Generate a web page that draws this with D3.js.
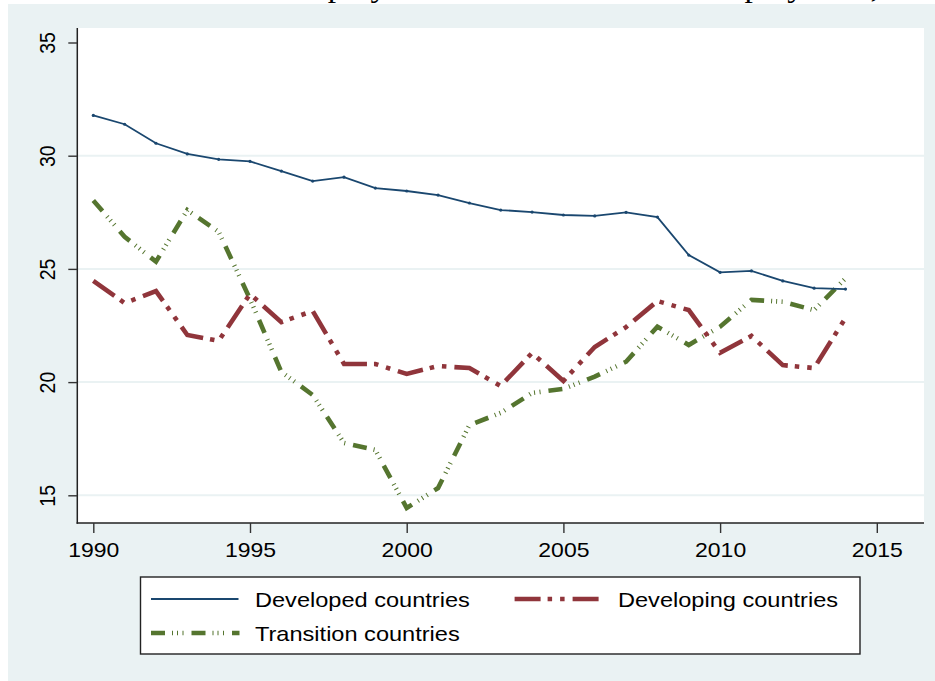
<!DOCTYPE html>
<html>
<head>
<meta charset="utf-8">
<script src="https://cdn.jsdelivr.net/npm/d3@7"></script>
<style>
  html, body { margin: 0; padding: 0; background: #ffffff; }
  svg { display: block; }
  text { font-family: "Liberation Sans", Arial, Helvetica, sans-serif; fill: #000; }
</style>
</head>
<body>
<svg id="chart" width="935" height="681"></svg>
<script>
// ---------- data ----------
const years = [1990,1991,1992,1993,1994,1995,1996,1997,1998,1999,2000,2001,2002,2003,2004,2005,2006,2007,2008,2009,2010,2011,2012,2013,2014];
const developed = [31.78,31.39,30.55,30.08,29.84,29.75,29.32,28.88,29.05,28.57,28.44,28.26,27.91,27.60,27.51,27.38,27.34,27.50,27.29,25.61,24.85,24.91,24.47,24.15,24.11];
const developing = [24.47,23.49,24.02,22.08,21.82,23.89,22.65,23.14,20.80,20.80,20.36,20.71,20.62,19.83,21.29,20.05,21.55,22.43,23.58,23.18,21.29,22.04,20.75,20.62,22.83];
const transition = [28.02,26.42,25.32,27.60,26.64,23.67,20.45,19.43,17.31,17.00,14.44,15.32,18.10,18.64,19.52,19.70,20.24,20.90,22.45,21.64,22.45,23.63,23.55,23.18,24.58];
const seriesNames = ["Developed countries", "Developing countries", "Transition countries"];
const xTicks = [1990,1995,2000,2005,2010,2015];
const yTicks = [15,20,25,30,35];
const gridValues = [15,20,25,30];
const titleText = "Vulnerable employment as a share of total employment, %";

// ---------- layout ----------
const svg = d3.select("#chart");
const W = 935, H = 681;
const plot = {left: 77.3, right: 924, top: 28, bottom: 523};
const SX = 1.15; // horizontal text stretch seen in the reference

const x = d3.scaleLinear().domain([1990, 2015]).range([93.3, 876.8]);
const y = d3.scaleLinear().domain([15, 35]).range([495.3, 42.5]);

// title (mostly cut off at the top)
svg.append("text")
  .attr("transform", `translate(915,-3) scale(${SX},1)`)
  .attr("text-anchor", "end")
  .style("font-family", "'Liberation Serif', 'Times New Roman', serif")
  .style("font-size", "29px")
  .text(titleText);

// background
svg.append("rect").attr("x", 8).attr("y", 4).attr("width", W - 8).attr("height", H - 4).attr("fill", "#eaf2f3");
svg.append("rect").attr("x", plot.left).attr("y", plot.top)
  .attr("width", plot.right - plot.left).attr("height", plot.bottom - plot.top).attr("fill", "#ffffff");

// gridlines
svg.append("g").selectAll("line").data(gridValues).join("line")
  .attr("x1", plot.left).attr("x2", plot.right)
  .attr("y1", d => y(d)).attr("y2", d => y(d))
  .attr("stroke", "#eaf2f3").attr("stroke-width", 2);

// series
const line = d3.line().x((d, i) => x(years[i])).y(d => y(d));
const styles = [
  {data: developed, color: "#1a476f", width: 1.8, dash: null},
  {data: developing, color: "#90353b", width: 4.6, dash: "26,7,4.5,8,4.5,8"},
  {data: transition, color: "#55752f", width: 4.6, dash: "14,7,1,4,1,4.5,1,8"}
];
const lg = svg.append("g");
styles.slice().reverse().forEach(s => {
  lg.append("path").datum(s.data)
    .attr("d", line)
    .attr("fill", "none")
    .attr("stroke", s.color)
    .attr("stroke-width", s.width)
    .attr("stroke-linejoin", "miter")
    .attr("stroke-linecap", "butt")
    .attr("stroke-dasharray", s.dash);
});
// tiny vertices on developed line
lg.append("g").selectAll("circle").data(developed).join("circle")
  .attr("cx", (d, i) => x(years[i])).attr("cy", d => y(d)).attr("r", 1.6)
  .attr("fill", "#1a476f");

// axes
svg.append("line").attr("x1", plot.left).attr("x2", plot.left).attr("y1", plot.top).attr("y2", plot.bottom + 0.7)
  .attr("stroke", "#222").attr("stroke-width", 1.5);
svg.append("line").attr("x1", plot.left - 0.7).attr("x2", plot.right).attr("y1", plot.bottom).attr("y2", plot.bottom)
  .attr("stroke", "#222").attr("stroke-width", 1.5);

const xAxis = svg.append("g").attr("transform", `translate(0,${plot.bottom})`)
  .call(d3.axisBottom(x).tickValues(xTicks).tickSize(10).tickSizeOuter(0).tickFormat(d3.format("d")));
xAxis.select(".domain").remove();
xAxis.selectAll(".tick line").attr("stroke", "#333").attr("stroke-width", 1.4);
xAxis.selectAll(".tick text")
  .attr("y", null).attr("dy", null)
  .attr("transform", `translate(0,34) scale(${SX},1)`)
  .attr("text-anchor", "middle")
  .style("font-size", "20px").style("font-family", "'Liberation Sans', Arial, sans-serif").attr("fill", "#000");

const yAxis = svg.append("g").attr("transform", `translate(${plot.left},0)`)
  .call(d3.axisLeft(y).tickValues(yTicks).tickSize(9).tickSizeOuter(0).tickFormat(d3.format("d")));
yAxis.select(".domain").remove();
yAxis.selectAll(".tick line").attr("stroke", "#333").attr("stroke-width", 1.4);
yAxis.selectAll(".tick text")
  .attr("x", null).attr("dy", null)
  .attr("transform", `translate(-22.3,0) scale(${SX},1) rotate(-90)`)
  .attr("text-anchor", "middle")
  .style("font-size", "19.5px").style("font-family", "'Liberation Sans', Arial, sans-serif").attr("fill", "#000");

// legend
const leg = svg.append("g");
leg.append("rect").attr("x", 140.5).attr("y", 577).attr("width", 719.5).attr("height", 77)
  .attr("fill", "#ffffff").attr("stroke", "#222").attr("stroke-width", 1.4);
const legItems = [
  {name: seriesNames[0], s: styles[0], x1: 151, x2: 238.5, ty: 599, tx: 255},
  {name: seriesNames[1], s: styles[1], x1: 514.6, x2: 602, ty: 599, tx: 618},
  {name: seriesNames[2], s: styles[2], x1: 151, x2: 239.5, ty: 633, tx: 255}
];
legItems.forEach(it => {
  leg.append("line").attr("x1", it.x1).attr("x2", it.x2).attr("y1", it.ty).attr("y2", it.ty)
    .attr("stroke", it.s.color).attr("stroke-width", it.s.width)
    .attr("stroke-linecap", "butt").attr("stroke-dasharray", it.s.dash);
  leg.append("text")
    .attr("transform", `translate(${it.tx},${it.ty + 8}) scale(${SX},1)`)
    .style("font-size", "20.5px")
    .text(it.name);
});
</script>
</body>
</html>
